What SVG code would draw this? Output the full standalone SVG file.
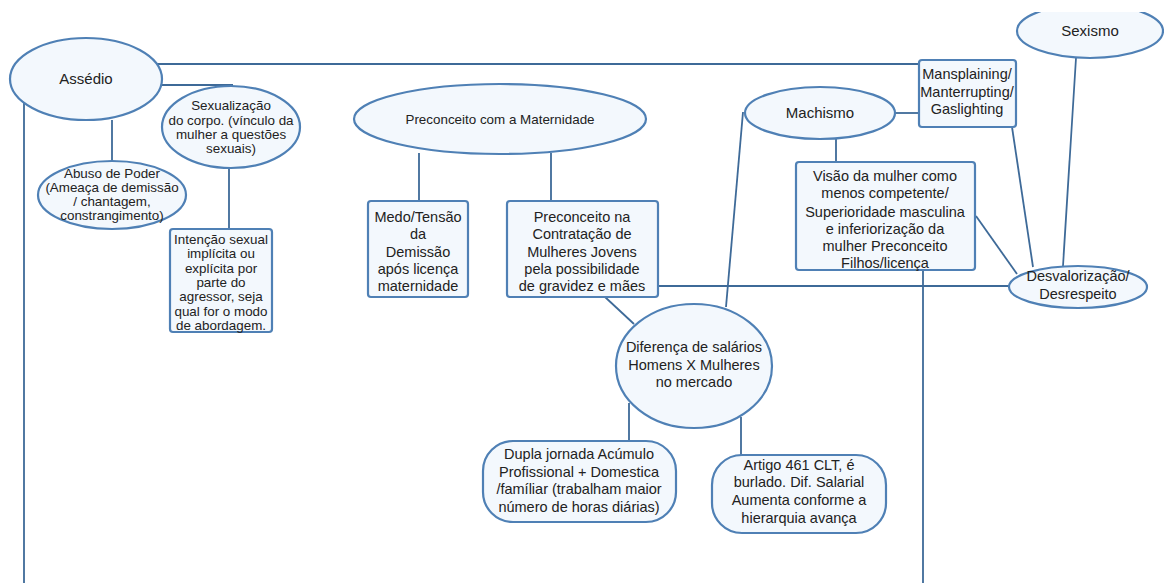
<svg xmlns="http://www.w3.org/2000/svg" width="1164" height="583" viewBox="0 0 1164 583">
<defs>
<style>
.n{fill:#f3f8fd;stroke:#4f80b5;stroke-width:2.2}
.c{fill:none;stroke:#3e6a98;stroke-width:1.8}
text{font-family:"Liberation Sans",Arial,sans-serif;fill:#222;text-anchor:middle}
.s{font-size:13.4px}
.m{font-size:14.5px}
.l{font-size:15px}
</style>
<clipPath id="top"><rect x="0" y="12" width="1164" height="571"/></clipPath>
</defs>
<rect width="1164" height="583" fill="#fff"/>
<g id="connectors" class="c">
<line x1="157" y1="64" x2="920" y2="64"/>
<line x1="160" y1="85" x2="233" y2="85"/>
<line x1="112" y1="120" x2="112" y2="161"/>
<line x1="229" y1="168" x2="229" y2="229"/>
<line x1="24" y1="103" x2="24" y2="583"/>
<line x1="419" y1="153" x2="419" y2="201"/>
<line x1="551" y1="153" x2="551" y2="201"/>
<line x1="658" y1="286" x2="1010" y2="286"/>
<line x1="605" y1="297" x2="634" y2="324"/>
<line x1="726" y1="307" x2="743" y2="112"/>
<line x1="629" y1="403" x2="629" y2="441"/>
<line x1="741" y1="417" x2="741" y2="455"/>
<line x1="895" y1="113" x2="919" y2="113"/>
<line x1="836" y1="139" x2="836" y2="162"/>
<line x1="1076" y1="58" x2="1063" y2="266"/>
<line x1="1012" y1="127" x2="1033" y2="267"/>
<line x1="976" y1="216" x2="1017" y2="274"/>
<line x1="923" y1="270" x2="923" y2="583"/>
</g>
<g id="assedio"><ellipse class="n" cx="86" cy="79" rx="76" ry="41"/><text class="l" x="86" y="84">Assédio</text></g>
<g id="sexualizacao"><ellipse class="n" cx="231" cy="127" rx="69" ry="41"/>
<text class="s" x="231" y="110">Sexualização</text><text class="s" x="231" y="125">do corpo. (vínculo da</text><text class="s" x="231" y="139">mulher a questões</text><text class="s" x="231" y="153">sexuais)</text></g>
<g id="abuso"><ellipse class="n" cx="112" cy="195" rx="74" ry="34"/>
<text class="s" x="112" y="178">Abuso de Poder</text><text class="s" x="112" y="192">(Ameaça de demissão</text><text class="s" x="112" y="206">/ chantagem,</text><text class="s" x="112" y="220">constrangimento)</text></g>
<g id="intencao"><rect class="n" x="170" y="229" width="102" height="103" rx="3"/>
<text class="s" x="221" y="244">Intenção sexual</text><text class="s" x="221" y="258">implícita ou</text><text class="s" x="221" y="273">explícita por</text><text class="s" x="221" y="287">parte do</text><text class="s" x="221" y="301">agressor, seja</text><text class="s" x="221" y="316">qual for o modo</text><text class="s" x="221" y="330">de abordagem.</text></g>
<g id="maternidade"><ellipse class="n" cx="500" cy="119" rx="146" ry="35"/><text class="s" x="500" y="124">Preconceito com a Maternidade</text></g>
<g id="medo"><rect class="n" x="368" y="201" width="100" height="96" rx="3"/>
<text class="m" x="418" y="222">Medo/Tensão</text><text class="m" x="418" y="239">da</text><text class="m" x="418" y="257">Demissão</text><text class="m" x="418" y="274">após licença</text><text class="m" x="418" y="291">maternidade</text></g>
<g id="contratacao"><rect class="n" x="507" y="201" width="151" height="96" rx="3"/>
<text class="m" x="582" y="222">Preconceito na</text><text class="m" x="582" y="239">Contratação de</text><text class="m" x="582" y="257">Mulheres Jovens</text><text class="m" x="582" y="274">pela possibilidade</text><text class="m" x="582" y="291">de gravidez e mães</text></g>
<g id="diferenca"><ellipse class="n" cx="694" cy="366" rx="78" ry="62"/>
<text class="m" x="694" y="352">Diferença de salários</text><text class="m" x="694" y="370">Homens X Mulheres</text><text class="m" x="694" y="387">no mercado</text></g>
<g id="dupla"><rect class="n" x="483" y="441" width="193" height="81" rx="30"/>
<text class="m" x="579" y="459">Dupla jornada Acúmulo</text><text class="m" x="579" y="477">Profissional + Domestica</text><text class="m" x="579" y="494">/famíliar (trabalham maior</text><text class="m" x="579" y="512">número de horas diárias)</text></g>
<g id="artigo"><rect class="n" x="712" y="455" width="174" height="78" rx="30"/>
<text class="m" x="799" y="470">Artigo 461 CLT, é</text><text class="m" x="799" y="487">burlado. Dif. Salarial</text><text class="m" x="799" y="505">Aumenta conforme a</text><text class="m" x="799" y="523">hierarquia avança</text></g>
<g id="machismo"><ellipse class="n" cx="820" cy="113" rx="75" ry="26"/><text class="l" x="820" y="118">Machismo</text></g>
<g id="mansplaining"><rect class="n" x="919" y="60" width="97" height="67" rx="3"/>
<text class="m" x="967" y="79">Mansplaining/</text><text class="m" x="967" y="97">Manterrupting/</text><text class="m" x="967" y="114">Gaslighting</text></g>
<g id="visao"><rect class="n" x="796" y="162" width="179" height="108" rx="3"/>
<text class="m" x="885" y="181">Visão da mulher como</text><text class="m" x="885" y="198">menos competente/</text><text class="m" x="885" y="217">Superioridade masculina</text><text class="m" x="885" y="234">e inferiorização da</text><text class="m" x="885" y="251">mulher Preconceito</text><text class="m" x="885" y="268">Filhos/licença</text></g>
<g id="sexismo" clip-path="url(#top)"><ellipse class="n" cx="1090" cy="31" rx="73" ry="27"/><text class="l" x="1090" y="36">Sexismo</text></g>
<g id="desvalorizacao"><ellipse class="n" cx="1078" cy="287" rx="69" ry="21"/>
<text class="m" x="1078" y="281">Desvalorização/</text><text class="m" x="1078" y="299">Desrespeito</text></g>
</svg>
